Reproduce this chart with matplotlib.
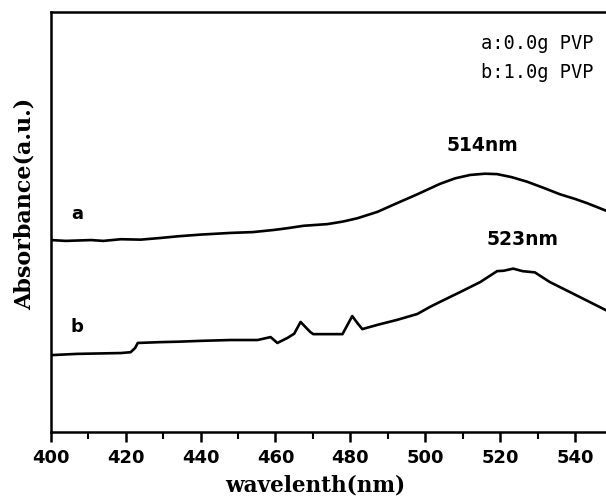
import matplotlib.pyplot as plt
from matplotlib.ticker import MultipleLocator

# ---------------- DATA ----------------
wl_a = [400, 404, 410.7, 414, 418.7, 424, 429.3, 434, 440, 444, 448,
        454, 459.5, 463, 467.5, 473.9, 478, 481.9, 487.2, 492.5, 497.9,
        501.3, 504, 508, 512, 516, 519.2, 523, 527.2, 532, 536, 540,
        543.2, 548.3]
abs_a = [0.457, 0.455, 0.457, 0.455, 0.459, 0.458, 0.462, 0.466, 0.470,
         0.472, 0.474, 0.476, 0.481, 0.485, 0.491, 0.495, 0.501, 0.509,
         0.524, 0.545, 0.566, 0.580, 0.591, 0.604, 0.612, 0.615, 0.614,
         0.607, 0.596, 0.580, 0.566, 0.555, 0.545, 0.527]

wl_b = [400, 407, 418.7, 421.3, 422.5, 423.2, 429.3, 434, 440, 448,
        455.2, 458.7, 460.5, 463.2, 465, 466.7, 468, 469.3, 470.1,
        477.9, 480.5, 482, 483.2, 487.2, 492.5, 497.9, 501.3, 504,
        509.3, 514.7, 519.2, 521, 523.5, 526, 529.3, 533.3, 538.7, 548.3]
abs_b = [0.183, 0.186, 0.188, 0.190, 0.200, 0.212, 0.214, 0.215, 0.217,
         0.219, 0.219, 0.226, 0.212, 0.224, 0.234, 0.262, 0.250, 0.238,
         0.233, 0.233, 0.276, 0.258, 0.245, 0.255, 0.267, 0.281, 0.298,
         0.310, 0.333, 0.357, 0.383, 0.384, 0.389, 0.383, 0.380, 0.357,
         0.333, 0.290]

curve_labels = ["a", "b"]
peak_labels = ["514nm", "523nm"]
legend_lines = ["a:0.0g PVP", "b:1.0g PVP"]

# ---------------- PLOT ----------------
fig = plt.figure(figsize=(6.06, 5.0), dpi=100)
ax = fig.add_axes([0.084, 0.136, 0.916, 0.840])

ax.plot(wl_a, abs_a, color="black", lw=1.9)
ax.plot(wl_b, abs_b, color="black", lw=1.9)

ax.set_xlim(400, 548.3)
ax.set_ylim(0, 1)

ax.spines["right"].set_visible(False)
for s in ["left", "bottom", "top"]:
    ax.spines[s].set_linewidth(1.8)

ax.xaxis.set_major_locator(MultipleLocator(20))
ax.xaxis.set_minor_locator(MultipleLocator(10))
ax.tick_params(axis="x", which="major", direction="out", length=7, width=1.8,
               labelsize=13, pad=5)
ax.tick_params(axis="x", which="minor", direction="out", length=5, width=1.5)
ax.set_yticks([])
for lab in ax.get_xticklabels():
    lab.set_fontweight("bold")

ax.set_xlabel("wavelenth(nm)", fontsize=15.5, fontweight="bold",
              family="DejaVu Serif")
ax.xaxis.set_label_coords(0.477, -0.102)
ax.set_ylabel("Absorbance(a.u.)", fontsize=16, fontweight="bold",
              family="DejaVu Serif")
ax.yaxis.set_label_coords(-0.027, 0.543)

# curve names
ax.text(407, 0.52, curve_labels[0], fontsize=13, fontweight="bold",
        ha="center", va="center")
ax.text(407, 0.25, curve_labels[1], fontsize=13, fontweight="bold",
        ha="center", va="center")

# peak annotations
ax.text(515.2, 0.66, peak_labels[0], fontsize=13.5, fontweight="bold",
        ha="center", va="bottom")
ax.text(526, 0.435, peak_labels[1], fontsize=13.5, fontweight="bold",
        ha="center", va="bottom")

# sample legend
ax.text(0.977, 0.924, legend_lines[0], transform=ax.transAxes, fontsize=13.5,
        family="DejaVu Sans Mono", ha="right", va="center")
ax.text(0.977, 0.855, legend_lines[1], transform=ax.transAxes, fontsize=13.5,
        family="DejaVu Sans Mono", ha="right", va="center")

plt.savefig("out.png", dpi=100)
